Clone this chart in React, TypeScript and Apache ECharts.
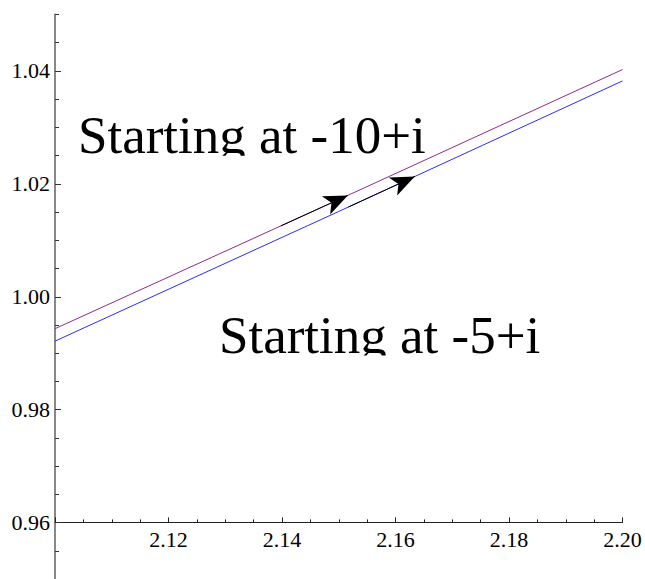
import React, { useEffect, useRef } from "react";
import * as echarts from "echarts";

// x positions where values were read
const xsPurple = [2.1, 2.15, 2.2];
const ysPurple = [0.99434, 1.01722, 1.04025]; // curve starting at -10+i
const xsBlue = [2.1, 2.15, 2.2];
const ysBlue = [0.99214, 1.01511, 1.03823]; // curve starting at -5+i

// arrows on each curve: [start x, tip x]
const arrowPurple = [2.1398, 2.1516];
const arrowBlue = [2.1517, 2.1634];

const yTicks = [0.96, 0.98, 1.0, 1.02, 1.04];

const label1 = "Starting at -10+i";
const label2 = "Starting at -5+i";

function interp(xs: number[], ys: number[], x: number): number {
  for (let i = 0; i < xs.length - 1; i++) {
    if (x >= xs[i] && x <= xs[i + 1]) {
      const t = (x - xs[i]) / (xs[i + 1] - xs[i]);
      return ys[i] + t * (ys[i + 1] - ys[i]);
    }
  }
  return ys[ys.length - 1];
}

const FONT = "Liberation Serif";

export default function App() {
  const ref = useRef<HTMLDivElement>(null);
  useEffect(() => {
    if (!ref.current) return;
    const chart = echarts.init(ref.current, undefined, { renderer: "svg" });

    const arrowMark = (xs: number[], ys: number[], a: number[]) => ({
      silent: true,
      symbol: ["none", "arrow"],
      symbolSize: [15, 24],
      label: { show: false },
      lineStyle: { color: "#000", width: 1, type: "solid", opacity: 1 },
      emphasis: { disabled: true },
      data: [
        [
          { coord: [a[0], interp(xs, ys, a[0])] },
          { coord: [a[1], interp(xs, ys, a[1])] },
        ],
      ],
    });

    const rich = {
      n: { color: "#000", fontFamily: FONT, fontSize: 22, fontWeight: "normal" },
    };

    chart.setOption({
      animation: false,
      backgroundColor: "#fff",
      textStyle: { fontFamily: FONT, fontSize: 22, color: "#000" },
      grid: { left: 55, right: 22.5, top: 14.5, bottom: -1, containLabel: false },
      xAxis: [
        {
          type: "value",
          min: 2.1,
          max: 2.2,
          interval: 0.02,
          position: "bottom",
          offset: -56.6,
          axisLine: { show: true, lineStyle: { color: "#222", width: 1 } },
          axisTick: { show: true, inside: true, length: 5, lineStyle: { color: "#222" } },
          minorTick: { show: true, splitNumber: 4, length: 3, lineStyle: { color: "#222" } },
          splitLine: { show: false },
          minorSplitLine: { show: false },
          axisLabel: {
            showMinLabel: false,
            margin: 6,
            color: "#000",
            fontFamily: FONT,
            fontSize: 22,
            rich,
            formatter: (v: number) => `{n|${v.toFixed(2)}}`,
          },
        },
      ],
      yAxis: [
        {
          type: "value",
          min: 0.95,
          max: 1.05,
          interval: 0.005,
          position: "left",
          axisLine: { show: true, lineStyle: { color: "#888", width: 2 } },
          axisTick: { show: true, inside: true, length: 4, lineStyle: { color: "#333" } },
          splitLine: { show: false },
          axisLabel: {
            customValues: yTicks,
            margin: 5,
            color: "#000",
            fontFamily: FONT,
            fontSize: 22,
            rich,
            formatter: (v: number) => `{n|${v.toFixed(2)}}`,
          },
        },
        {
          type: "value",
          min: 0.95,
          max: 1.05,
          position: "left",
          offset: 0,
          axisLine: { show: false },
          axisTick: {
            show: true,
            inside: true,
            length: 6,
            customValues: yTicks,
            lineStyle: { color: "#333" },
          },
          splitLine: { show: false },
          axisLabel: { show: false },
        },
      ],
      graphic: [
        {
          type: "text",
          x: 78,
          y: 108,
          z: 0,
          style: {
            text: label1,
            font: `53px ${FONT}`,
            fill: "#000",
            verticalAlign: "top",
            align: "left",
          },
        },
        {
          type: "rect",
          z: 1,
          shape: { x: 70, y: 155.8, width: 370, height: 18 },
          style: { fill: "#fff" },
        },
        {
          type: "text",
          x: 219,
          y: 308,
          z: 0,
          style: {
            text: label2,
            font: `53px ${FONT}`,
            fill: "#000",
            verticalAlign: "top",
            align: "left",
          },
        },
        {
          type: "rect",
          z: 1,
          shape: { x: 210, y: 355.5, width: 345, height: 18 },
          style: { fill: "#fff" },
        },
      ],
      series: [
        {
          type: "line",
          xAxisIndex: 0,
          yAxisIndex: 0,
          z: 3,
          showSymbol: false,
          symbol: "none",
          clip: false,
          lineStyle: { color: "#8e2a8e", width: 1 },
          data: xsPurple.map((x, i) => [x, ysPurple[i]]),
          markLine: arrowMark(xsPurple, ysPurple, arrowPurple),
        },
        {
          type: "line",
          xAxisIndex: 0,
          yAxisIndex: 0,
          z: 3,
          showSymbol: false,
          symbol: "none",
          clip: false,
          lineStyle: { color: "#2b2bff", width: 1 },
          data: xsBlue.map((x, i) => [x, ysBlue[i]]),
          markLine: arrowMark(xsBlue, ysBlue, arrowBlue),
        },
      ],
    });
    return () => chart.dispose();
  }, []);
  return (
    <div
      ref={ref}
      style={{ position: "fixed", left: 0, top: 0, width: 645, height: 579 }}
    />
  );
}
